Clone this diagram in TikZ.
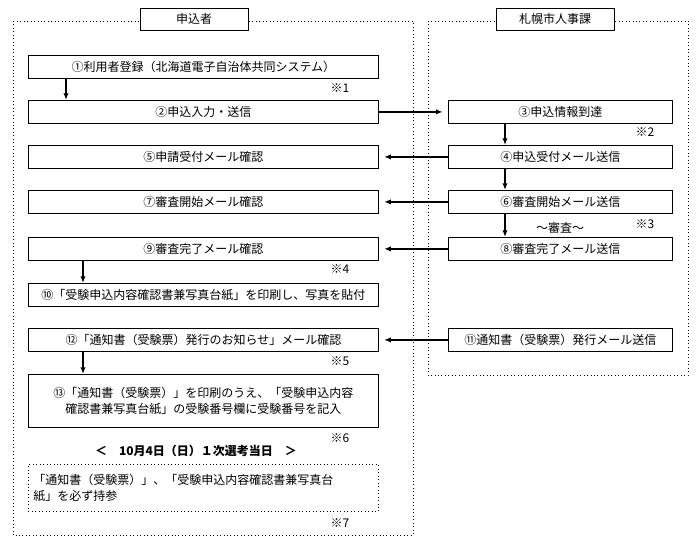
\documentclass[tikz,border=0pt]{standalone}
\usepackage{fontspec}
\setmainfont{Noto Sans CJK JP}
\usetikzlibrary{arrows.meta}
\tikzset{
  proc/.style={draw, fill=white, line width=0.6pt, font=\fontsize{9}{12}\selectfont},
  head/.style={draw, line width=0.6pt, font=\fontsize{9}{11}\selectfont},
  frame/.style={draw, dotted, line width=0.6pt},
  flow/.style={-{Latex[length=5pt,width=4pt]}, line width=1.2pt},
  note/.style={font=\fontsize{9}{11}\selectfont}
}
\newcommand{\stepbox}[5]{%
  \node[proc, minimum width=#3*0.75pt, minimum height=23*0.75pt, anchor=north west] (#1) at (#2) {#5};}
\begin{document}
\begin{tikzpicture}[x=0.75pt,y=-0.75pt]
\useasboundingbox (0,0) rectangle (700,543);
% frames
\draw[frame] (13,21) rectangle (413,535);
\draw[frame] (428,21) rectangle (688,375);
\node[head, fill=white, minimum width=108*0.75pt, minimum height=22*0.75pt] (appl) at (194,19) {申込者};
\node[head, fill=white, minimum width=118*0.75pt, minimum height=22*0.75pt] (city) at (555,19) {札幌市人事課};
% left column
\stepbox{s1}{28,55}{350}{}{①利用者登録（北海道電子自治体共同システム）}
\stepbox{s2}{28,100}{350}{}{②申込入力・送信}
\stepbox{s5}{28,145}{350}{}{⑤申請受付メール確認}
\stepbox{s7}{28,190}{350}{}{⑦審査開始メール確認}
\stepbox{s9}{28,237}{350}{}{⑨審査完了メール確認}
\stepbox{s10}{28,283}{350}{}{⑩「受験申込内容確認書兼写真台紙」を印刷し、写真を貼付}
\stepbox{s12}{28,328}{350}{}{⑫「通知書（受験票）発行のお知らせ」メール確認}
\node[proc, minimum width=350*0.75pt, minimum height=53*0.75pt, anchor=north west, align=center] (s13) at (28,374)
  {⑬「通知書（受験票）」を印刷のうえ、「受験申込内容\\確認書兼写真台紙」の受験番号欄に受験番号を記入};
% right column
\stepbox{s3}{448,100}{224}{}{③申込情報到達}
\stepbox{s4}{448,145}{224}{}{④申込受付メール送信}
\stepbox{s6}{448,190}{224}{}{⑥審査開始メール送信}
\stepbox{s8}{448,237}{224}{}{⑧審査完了メール送信}
\stepbox{s11}{448,328}{224}{}{⑪通知書（受験票）発行メール送信}
% notes
\node[note] (n1) at (340,88) {※1};
\node[note] (n2) at (645,132) {※2};
\node[note] (n3) at (645,224) {※3};
\node[note] (rev) at (560,228) {～審査～};
\node[note] (n4) at (340,269) {※4};
\node[note] (n5) at (340,361) {※5};
\node[note] (n6) at (340,438) {※6};
\node[font=\bfseries\fontsize{9}{11}\selectfont] (day) at (196,451) {＜　10月4日（日）１次選考当日　＞};
\node[frame, minimum width=350*0.75pt, minimum height=47*0.75pt, anchor=north west, text width=340*0.75pt, align=left,
  font=\fontsize{9}{12}\selectfont] (bring) at (28,464)
  {「通知書（受験票）」、「受験申込内容確認書兼写真台\\紙」を必ず持参};
\node[note] (n7) at (340,523) {※7};
% flow
\coordinate (a1) at (66,78); \coordinate (b1) at (66,100);
\draw[flow] (a1) -- (b1);
\draw[flow] (s2.east) -- ([xshift=-4pt]s3.west);
\coordinate (a3) at (505,123); \coordinate (b3) at (505,145);
\draw[flow] (a3) -- (b3);
\draw[flow] (s4.west) -- ([xshift=4pt]s5.east);
\coordinate (a4) at (505,168); \coordinate (b4) at (505,190);
\draw[flow] (a4) -- (b4);
\draw[flow] (s6.west) -- ([xshift=4pt]s7.east);
\coordinate (a6) at (505,213); \coordinate (b6) at (505,237);
\draw[flow] (a6) -- (b6);
\draw[flow] (s8.west) -- ([xshift=4pt]s9.east);
\coordinate (a9) at (83,260); \coordinate (b9) at (83,283);
\draw[flow] (a9) -- (b9);
\draw[flow] (s11.west) -- ([xshift=4pt]s12.east);
\coordinate (a12) at (83,351); \coordinate (b12) at (83,374);
\draw[flow] (a12) -- (b12);
\end{tikzpicture}
\end{document}
